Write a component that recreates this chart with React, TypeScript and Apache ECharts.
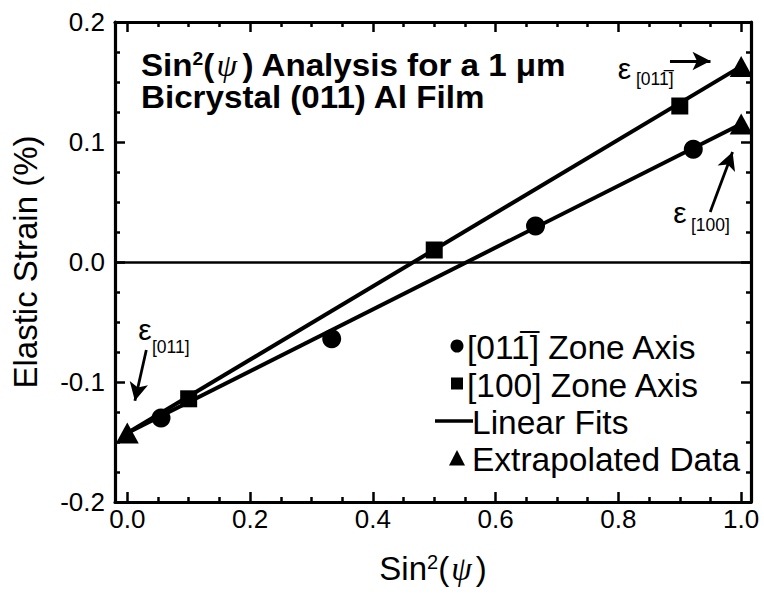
import React, { useEffect, useRef } from "react";
import * as echarts from "echarts";

// ---- data ----
const zone011X = [0.055, 0.333, 0.665, 0.922];
const zone011Y = [-0.13, -0.064, 0.03, 0.094];
const zone100X = [0.1, 0.5, 0.9];
const zone100Y = [-0.114, 0.01, 0.13];
const extrapX = [0, 1, 1];
const extrapY = [-0.1425, 0.115, 0.163];
const fit011X = [0, 1];
const fit011Y = [-0.1425, 0.115];
const fit100X = [0, 1];
const fit100Y = [-0.1425, 0.163];

const xMajorTicks = [0, 0.2, 0.4, 0.6, 0.8, 1.0];
const xMinorTicks = [0.05, 0.1, 0.15, 0.25, 0.3, 0.35, 0.45, 0.5, 0.55, 0.65, 0.7, 0.75, 0.85, 0.9, 0.95];

const titleLines = [
  "{b|Sin}{sup|2}{b|(}{psi|\u03c8}{b|) Analysis for a 1 \u03bcm}",
  "{b|Bicrystal (011) Al Film}",
];
const legendLabels = ["[011\u0305] Zone Axis", "[100] Zone Axis", "Linear Fits", "Extrapolated Data"];

// annotation arrows (data coords): tail -> head
const arrowTailX = [0.031, 0.884, 0.9495];
const arrowTailY = [-0.0733, 0.1675, 0.0417];
const arrowHeadX = [0.0124, 0.95, 0.986];
const arrowHeadY = [-0.1156, 0.1675, 0.0917];
const annotationSubs = ["[011]", "[011\u0305]", "[100]"];

const FONT = "'Liberation Sans', Arial, Helvetica, sans-serif";
const BLACK = "#000";

const zip = (xs: number[], ys: number[]) => xs.map((x, i) => [x, ys[i]]);

export default function App() {
  const ref = useRef<HTMLDivElement>(null);

  useEffect(() => {
    if (!ref.current) return;
    const chart = echarts.init(ref.current, undefined, { renderer: "svg" });

    const xCommon = { type: "value", min: -0.02, max: 1.016, splitLine: { show: false } };
    const tickStyle = { color: BLACK, width: 2.5 };
    const lineAxis = { show: true, onZero: false, lineStyle: { color: BLACK, width: 3.2 } };

    const yCommon = {
      type: "value",
      min: -0.2,
      max: 0.2,
      interval: 0.1,
      splitLine: { show: false },
      axisLine: lineAxis,
      axisTick: { show: true, inside: true, length: 10, lineStyle: tickStyle },
      minorTick: { show: true, splitNumber: 4, length: 5, lineStyle: tickStyle },
      minorSplitLine: { show: false },
    };

    const arrowData = arrowTailX.map((tx, i) => [
      { coord: [tx, arrowTailY[i]], symbol: "none" },
      { coord: [arrowHeadX[i], arrowHeadY[i]], symbol: "arrow", symbolSize: [14, 18] },
    ]);

    const titleRich = {
      b: { fontSize: 31, fontWeight: "bold", fontFamily: FONT, fill: BLACK, lineHeight: 31 },
      sup: { fontSize: 18, fontWeight: "bold", fontFamily: FONT, fill: BLACK, verticalAlign: "top", lineHeight: 18 },
      psi: { fontSize: 31, fontStyle: "italic", fontFamily: "'Liberation Serif', serif", fill: BLACK, lineHeight: 31, padding: [0, 5, 0, 2] },
    };

    const option: any = {
      animation: false,
      backgroundColor: "#fff",
      grid: { left: 115, right: 13, top: 22, bottom: 95, containLabel: false },
      xAxis: [
        {
          ...xCommon,
          position: "bottom",
          axisLine: lineAxis,
          axisTick: { show: true, inside: true, length: 10, lineStyle: tickStyle, customValues: xMajorTicks },
          axisLabel: {
            show: true,
            customValues: xMajorTicks,
            formatter: (v: number) => v.toFixed(1),
            color: BLACK,
            fontSize: 26,
            fontFamily: FONT,
            margin: 4,
          },
          name: "{n|Sin}{sup|2}{n|(}{psi|\u03c8}{n|)}",
          nameLocation: "middle",
          nameGap: 50,
          nameTextStyle: {
            fontSize: 33,
            fontFamily: FONT,
            color: BLACK,
            rich: {
              n: { fontSize: 33, fontFamily: FONT, color: BLACK },
              sup: { fontSize: 20, fontFamily: FONT, color: BLACK, verticalAlign: "top", lineHeight: 20 },
              psi: { fontSize: 33, fontFamily: "'Liberation Serif', serif", fontStyle: "italic", color: BLACK, padding: [0, 4, 0, 2] },
            },
          },
        },
        {
          ...xCommon,
          position: "bottom",
          axisLine: { show: false, onZero: false },
          axisTick: { show: true, inside: true, length: 5, lineStyle: tickStyle, customValues: xMinorTicks },
          axisLabel: { show: false },
        },
        {
          ...xCommon,
          position: "top",
          axisLine: lineAxis,
          axisTick: { show: true, inside: true, length: 10, lineStyle: tickStyle, customValues: xMajorTicks },
          axisLabel: { show: false },
        },
        {
          ...xCommon,
          position: "top",
          axisLine: { show: false, onZero: false },
          axisTick: { show: true, inside: true, length: 5, lineStyle: tickStyle, customValues: xMinorTicks },
          axisLabel: { show: false },
        },
      ],
      yAxis: [
        {
          ...yCommon,
          position: "left",
          axisLabel: {
            show: true,
            formatter: (v: number) => v.toFixed(1),
            color: BLACK,
            fontSize: 26,
            fontFamily: FONT,
            margin: 10,
          },
          name: "Elastic Strain (%)",
          nameLocation: "middle",
          nameGap: 73,
          nameTextStyle: { fontSize: 33, fontFamily: FONT, color: BLACK },
        },
        {
          ...yCommon,
          position: "right",
          axisLabel: { show: false },
        },
      ],
      series: [
        {
          name: "Linear Fit [011]",
          type: "line",
          data: zip(fit011X, fit011Y),
          symbol: "none",
          lineStyle: { color: BLACK, width: 4 },
          z: 2,
          markLine: {
            silent: true,
            symbol: ["none", "none"],
            label: { show: false },
            lineStyle: { color: BLACK, width: 2.7, type: "solid" },
            data: [{ yAxis: 0 }],
            animation: false,
          },
        },
        {
          name: "Linear Fit [100]",
          type: "line",
          data: zip(fit100X, fit100Y),
          symbol: "none",
          lineStyle: { color: BLACK, width: 4 },
          z: 2,
        },
        {
          name: "[011] Zone Axis",
          type: "scatter",
          data: zip(zone011X, zone011Y),
          symbol: "circle",
          symbolSize: 19,
          itemStyle: { color: BLACK, opacity: 1 },
          z: 3,
        },
        {
          name: "[100] Zone Axis",
          type: "scatter",
          data: zip(zone100X, zone100Y),
          symbol: "rect",
          symbolSize: 17,
          itemStyle: { color: BLACK, opacity: 1 },
          z: 3,
        },
        {
          name: "Extrapolated Data",
          type: "scatter",
          data: zip(extrapX, extrapY),
          symbol: "triangle",
          symbolSize: [23, 21],
          itemStyle: { color: BLACK, opacity: 1 },
          clip: false,
          z: 3,
          markLine: {
            silent: true,
            label: { show: false },
            lineStyle: { color: BLACK, width: 2.8, type: "solid" },
            itemStyle: { color: BLACK },
            data: arrowData,
            animation: false,
          },
        },
      ],
      graphic: [
        // title, two lines
        ...titleLines.map((t, i) => ({
          type: "text",
          x: 141,
          y: [65.6, 97.6][i],
          scaleX: 1.07,
          style: {
            text: t,
            verticalAlign: "middle",
            align: "left",
            font: `bold 31px ${FONT}`,
            fill: BLACK,
            rich: titleRich,
          },
        })),
        // legend
        { type: "circle", shape: { cx: 457, cy: 346, r: 6.5 }, style: { fill: BLACK } },
        { type: "rect", shape: { x: 451, y: 377.5, width: 12, height: 12 }, style: { fill: BLACK } },
        { type: "line", shape: { x1: 435, y1: 421, x2: 473, y2: 421 }, style: { stroke: BLACK, lineWidth: 3.5 } },
        { type: "polygon", shape: { points: [[457, 450], [465, 465.5], [449, 465.5]] }, style: { fill: BLACK } },
        ...legendLabels.map((t, i) => ({
          type: "text",
          x: i < 2 ? 467 : 472,
          y: [347.5, 385, 422, 459.5][i],
          style: { text: t, font: `33.5px ${FONT}`, fill: BLACK, align: "left", verticalAlign: "middle" },
        })),
        // annotations (epsilon + subscripts)
        ...annotationSubs.flatMap((s, i) => [
          {
            type: "text",
            x: [145, 624.5, 680][i],
            y: [329.5, 68, 212.5][i],
            style: { text: "\u03b5", font: `30px ${FONT}`, fill: BLACK, align: "center", verticalAlign: "middle" },
          },
          {
            type: "text",
            x: [152, 636, 691][i],
            y: [346.7, 78.7, 225][i],
            style: { text: s, font: `17.5px ${FONT}`, fill: BLACK, align: "left", verticalAlign: "middle" },
          },
        ]),
      ],
    };

    chart.setOption(option);
    return () => chart.dispose();
  }, []);

  return (
    <div
      ref={ref}
      style={{ position: "fixed", left: 0, top: 0, width: 764, height: 597, background: "#fff" }}
    />
  );
}
